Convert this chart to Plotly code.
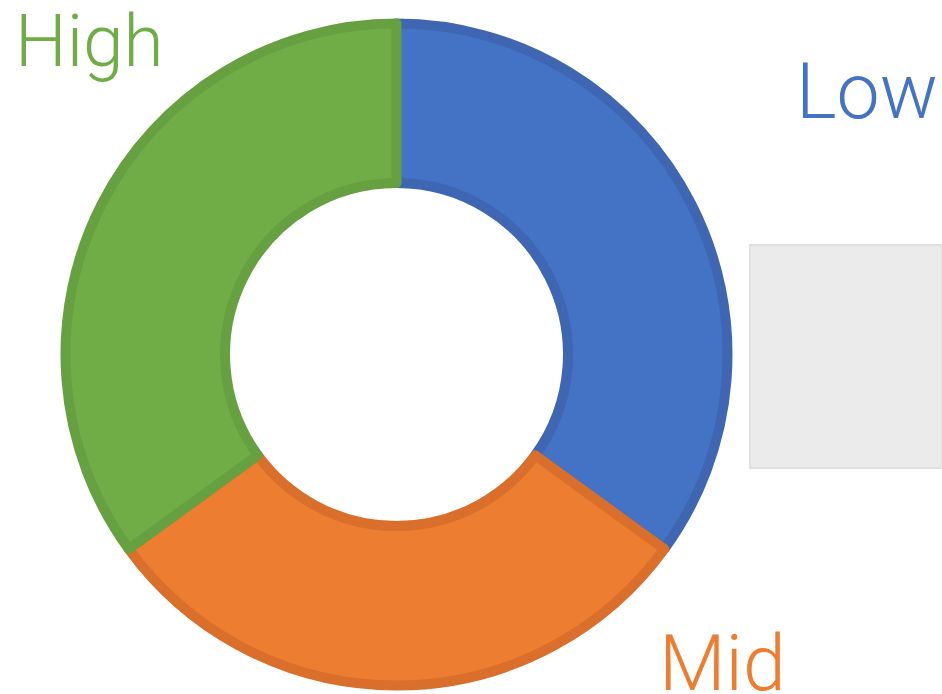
import plotly.graph_objects as go

labels = ["Low", "Mid", "High"]
values = [35, 30, 35]
fill_colors = ["#4472C4", "#ED7D31", "#70AD47"]
edge_colors = ["#3E66B2", "#D96F2B", "#66A040"]

W, H = 942, 694
cx, cy, r = 396.5, 354.5, 331.0

fig = go.Figure()
fig.add_trace(go.Pie(
    labels=labels,
    values=values,
    sort=False,
    direction="clockwise",
    rotation=0,
    hole=0.518,
    textinfo="none",
    hoverinfo="label+value",
    marker=dict(colors=fill_colors, line=dict(color=edge_colors, width=10)),
    domain=dict(x=[(cx - r) / W, (cx + r) / W], y=[(H - cy - r) / H, (H - cy + r) / H]),
    showlegend=False,
))

# empty legend-like grey box on the right
fig.add_shape(type="rect", xref="paper", yref="paper",
              x0=750 / W, x1=1.0, y0=1 - 468 / H, y1=1 - 245 / H,
              fillcolor="#EBEBEB", line=dict(color="#E0E0E0", width=2), layer="below")

font_family = "Roboto"
ann = [
    ("High", 13, 41, fill_colors[2], 73),
    ("Low", 794, 92, fill_colors[0], 77),
    ("Mid", 657, 664, fill_colors[1], 77),
]
for text, x, y, col, size in ann:
    fig.add_annotation(text=text, xref="paper", yref="paper",
                       x=x / W, y=1 - y / H, xanchor="left", yanchor="middle",
                       showarrow=False,
                       font=dict(family=font_family, size=size, color=col, weight=300))

fig.update_layout(
    width=W, height=H,
    margin=dict(l=0, r=0, t=0, b=0),
    paper_bgcolor="white",
    plot_bgcolor="white",
)

fig.write_html("out.html",
               config={"displayModeBar": False},
               post_script="document.body.style.margin='0';document.body.style.overflow='hidden';")
